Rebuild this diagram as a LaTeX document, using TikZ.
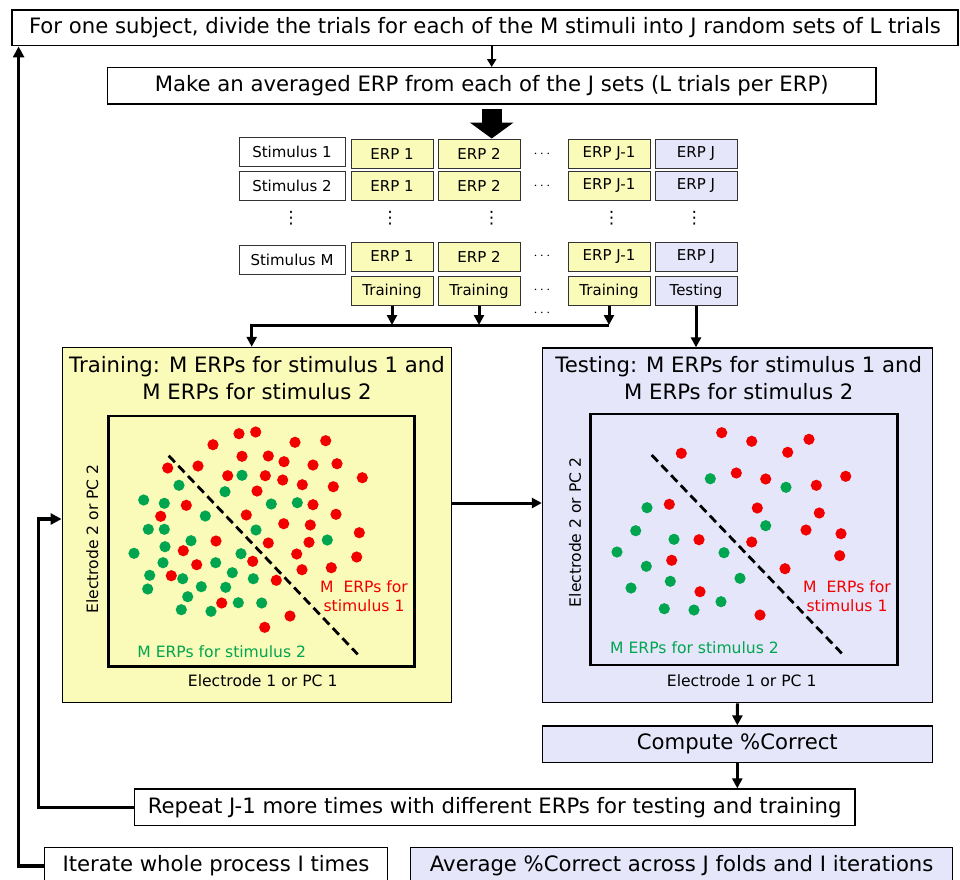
\documentclass[tikz,border=0pt]{standalone}
\usepackage{fontspec}
\setmainfont{DejaVu Sans}
\usetikzlibrary{arrows.meta,positioning,calc}
\definecolor{trainyellow}{HTML}{FAFAB9}
\definecolor{testlilac}{HTML}{E6E6FA}
\definecolor{dotred}{HTML}{F20000}
\definecolor{dotgreen}{HTML}{00A550}
\newcommand{\bigtext}{\fontsize{21.2}{26.7}\selectfont}
\newcommand{\smalltext}{\fontsize{15.6}{19}\selectfont}
\tikzset{
  stepbox/.style={draw=black, line width=1.4pt, fill=white, inner sep=0pt,
    font=\bigtext},
  lilacbox/.style={stepbox, fill=testlilac},
  cell/.style={draw=black!80, line width=1pt, inner sep=0pt,
    minimum width=82pt, minimum height=29pt, font=\fontsize{15}{18}\selectfont},
  trcell/.style={cell, fill=trainyellow},
  tecell/.style={cell, fill=testlilac},
  stimcell/.style={cell, fill=white, minimum width=106pt},
  gap/.style={inner sep=0pt, font=\fontsize{15}{18}\selectfont},
  vgap/.style={inner sep=0pt, font=\fontsize{17}{18}\selectfont},
  panel/.style={draw=black, line width=1.4pt, inner sep=0pt},
  plotframe/.style={draw=black, line width=2.8pt, inner sep=0pt},
  paneltitle/.style={align=center, font=\bigtext},
  axislabel/.style={font=\smalltext},
  grouplabel/.style={align=center, font=\smalltext},
  boundary/.style={line width=2.8pt, dash pattern=on 9pt off 5pt},
  thinflow/.style={-{Triangle[length=8pt,width=9pt]}, line width=2pt},
  flow/.style={-{Triangle[length=10pt,width=10pt]}, line width=3pt},
  loopflow/.style={-{Triangle[length=11pt,width=11pt]}, line width=3.5pt},
  reddot/.style={fill=dotred},
  greendot/.style={fill=dotgreen},
}

\begin{document}
\begin{tikzpicture}[x=1pt,y=-1pt]
  \useasboundingbox (0,0) rectangle (960,879);
  \clip (0,0) rectangle (960,879);
  % top steps
  \node[stepbox, minimum width=946pt, minimum height=35.7pt] (divide) at (485,27.9)
    {For one subject, divide the trials for each of the M stimuli into J random sets of L trials};
  \node[stepbox, minimum width=768.7pt, minimum height=36.3pt] (average) at (491.7,85.9)
    {Make an averaged ERP from each of the J sets (L trials per ERP)};
  \draw[thinflow] (divide.south -| average.north) -- (average.north);
  \coordinate (gridtop) at (491.7,138.5);
  \draw[line width=20pt, -{Triangle[length=16pt,width=43pt]}] ([yshift=-4pt]average.south) -- (gridtop);
  % the ERP grid
  \foreach \s/\y in {1/152,2/186,M/260}
    \node[stimcell] (stim\s) at (292,\y) {Stimulus \s};
  \foreach \s/\y in {1/154,2/186,M/256.5} {
    \node[trcell] (erp\s-1) at (392,\y) {ERP 1};
    \node[trcell] (erp\s-2) at (479,\y) {ERP 2};
    \node[gap] (hd\s) at (542,\y) {$\cdots$};
    \node[trcell] (erp\s-J1) at (609,\y) {ERP J-1};
    \node[tecell] (erp\s-J) at (696,\y) {ERP J};
  }
  \foreach \x [count=\i] in {291,390,491.7,611.7,694.3}
    \node[vgap] (vd\i) at (\x,218) {⋮};
  \node[trcell] (tr1) at (392,291) {Training};
  \node[trcell] (tr2) at (479,291) {Training};
  \node[gap] (hdtr) at (542,290) {$\cdots$};
  \node[trcell] (trJ1) at (609,291) {Training};
  \node[tecell] (trJ) at (696,291) {Testing};
  \node[gap] (hdbar) at (542,313) {$\cdots$};
  % training and testing panels
  \node[panel, fill=trainyellow, minimum width=389.4pt, minimum height=355pt] (trainpanel) at (257,525) {};
  \node[panel, fill=testlilac, minimum width=390pt, minimum height=354.5pt] (testpanel) at (737.5,525.3) {};
  \node[paneltitle] (traintitle) at (257,378.3) {Training: M ERPs for stimulus 1 and\\M ERPs for stimulus 2};
  \node[paneltitle] (testtitle) at (738.7,378.3) {Testing: M ERPs for stimulus 1 and\\M ERPs for stimulus 2};
  \node[plotframe, minimum width=306pt, minimum height=250.7pt] (trainplot) at (261.3,541.4) {};
  \node[plotframe, minimum width=307pt, minimum height=251pt] (testplot) at (744.2,539.5) {};
  \node[axislabel] (trainxlab) at (262.7,681) {Electrode 1 or PC 1};
  \node[axislabel] (testxlab) at (741.7,680.7) {Electrode 1 or PC 1};
  \node[axislabel, rotate=90] (trainylab) at (92.3,539) {Electrode 2 or PC 2};
  \node[axislabel, rotate=90] (testylab) at (575,532.3) {Electrode 2 or PC 2};
  % training scatter
  \foreach \x/\y in {239.0/433.7,255.7/432.0,213.0/444.7,295.0/442.3,325.7/440.7,
      242.0/456.3,268.3/456.0,284.0/461.7,313.0/465.0,337.0/463.7,167.7/468.0,
      198.0/466.0,227.7/475.7,265.3/475.7,282.7/480.0,302.3/484.7,333.3/486.7,
      362.3/477.7,257.0/491.0,186.3/505.3,160.7/516.3,313.0/504.7,336.0/514.3,
      246.3/515.0,283.7/523.7,310.3/525.0,359.3/532.7,216.0/541.0,268.3/543.0,
      309.0/542.3,183.3/550.7,296.7/554.0,356.7/557.0,196.7/564.7,252.7/561.3,
      302.0/569.7,331.3/567.7,171.3/575.7,276.3/580.3,221.7/603.0,290.0/616.0,
      264.7/627.3}
    \fill[reddot] (\x,\y) circle (5.6pt);
  \foreach \x/\y in {242.0/475.3,179.0/485.3,225.0/491.7,143.7/500.0,164.3/503.3,
      271.3/504.0,297.3/502.7,205.3/516.0,148.3/529.3,164.3/529.3,256.0/530.0,
      191.0/540.7,165.0/546.7,327.3/540.0,134.0/553.3,241.0/553.7,163.0/562.7,
      215.7/562.7,232.3/572.7,149.7/575.3,182.7/578.7,253.3/578.7,147.7/589.0,
      201.3/586.7,225.7/587.3,187.7/596.7,238.3/602.7,261.7/603.0,181.3/609.7,
      211.0/611.3}
    \fill[greendot] (\x,\y) circle (5.6pt);
  \draw[boundary] (168.7,455.7) -- (357.7,654.3);
  \node[grouplabel, text=dotred] (trainred) at (364,596.2) {M~ ERPs for\\stimulus 1};
  \node[grouplabel, text=dotgreen] (traingreen) at (221.7,651.3) {M ERPs for stimulus 2};
  % testing scatter
  \foreach \x/\y in {721.7/432.7,751.7/441.3,809.0/439.3,681.3/453.3,787.7/452.3,
      736.3/473.0,765.7/479.0,816.3/485.3,845.7/476.3,669.3/504.3,757.3/508.0,
      819.3/513.0,806.0/530.0,841.0/533.7,699.0/539.7,751.7/542.0,671.7/560.3,
      839.7/555.7,785.0/568.7,700.0/591.7,760.0/615.0}
    \fill[reddot] (\x,\y) circle (5.6pt);
  \foreach \x/\y in {710.3/478.7,786.0/487.3,647.0/507.7,635.7/530.7,674.0/539.3,
      724.0/552.7,617.0/552.0,765.7/525.7,646.3/566.3,670.3/581.3,740.0/578.3,
      631.0/588.0,721.0/601.7,664.3/608.7,694.0/610.0}
    \fill[greendot] (\x,\y) circle (5.6pt);
  \draw[boundary] (651.7,455) -- (841.7,653.3);
  \node[grouplabel, text=dotred] (testred) at (847,596.2) {M~ ERPs for\\stimulus 1};
  \node[grouplabel, text=dotgreen] (testgreen) at (694.5,647.3) {M ERPs for stimulus 2};
  % collecting the training ERPs
  \coordinate (barL) at (251.7,325);
  \coordinate (barR) at (609,325);
  \draw[flow] (barR) -- (barL) -- (barL |- trainpanel.north);
  \foreach \c in {tr1,tr2,trJ1}
    \draw[flow] (\c.south) -- (\c.south |- barL);
  \draw[flow] (trJ.south) -- (trJ.south |- testpanel.north);
  \coordinate (handoff) at ([yshift=22pt]trainpanel.east);
  \draw[flow] (handoff) -- (handoff -| testpanel.west);
  % bottom steps
  \node[lilacbox, minimum width=390pt, minimum height=36.3pt] (compute) at (737.3,744.2) {Compute \%Correct};
  \node[stepbox, minimum width=720.7pt, minimum height=36.5pt] (repeat) at (494.7,807.3)
    {Repeat J-1 more times with different ERPs for testing and training};
  \node[stepbox, minimum width=343.4pt, minimum height=36.5pt] (iterate) at (216,866) {Iterate whole process I times};
  \node[lilacbox, minimum width=542pt, minimum height=36.5pt] (final) at (681.7,866)
    {Average \%Correct across J folds and I iterations};
  \draw[flow] (testpanel.south) -- (compute.north);
  \draw[flow] (compute.south) -- (compute.south |- repeat.north);
  % the two loops
  \coordinate (reentry) at ([yshift=6pt]trainpanel.west);
  \draw[loopflow] (repeat.west) -| ([xshift=-23pt]reentry) -- (reentry);
  \coordinate (restart) at ([xshift=7.3pt]divide.south west);
  \draw[loopflow] (iterate.west) -| (restart);
\end{tikzpicture}
\end{document}
